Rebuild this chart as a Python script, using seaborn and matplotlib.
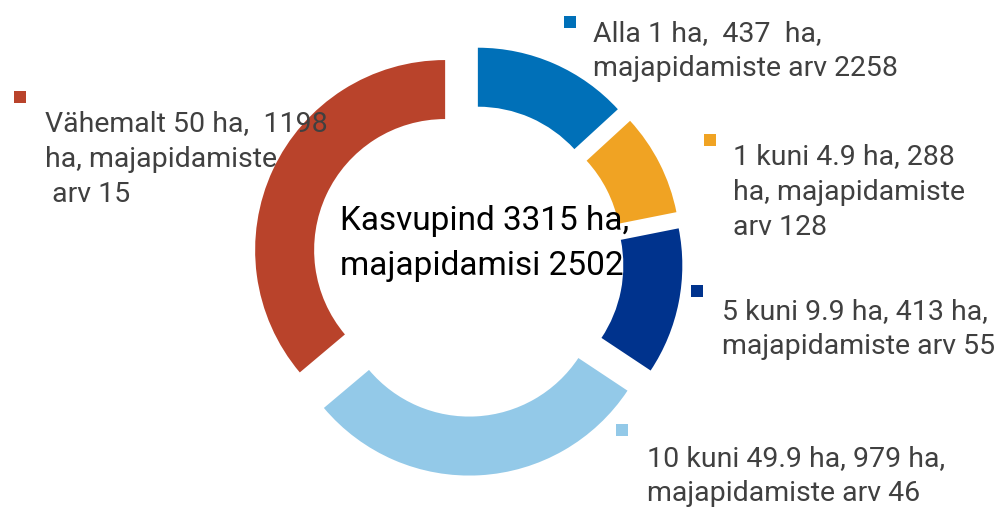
import matplotlib
matplotlib.use("Agg")
import seaborn as sns
import matplotlib.pyplot as plt
from matplotlib.patches import Rectangle

# andmed
kategooriad = ["Alla 1 ha", "1 kuni 4.9 ha", "5 kuni 9.9 ha", "10 kuni 49.9 ha", "Vähemalt 50 ha"]
pindala = [437, 288, 413, 979, 1198]
majapidamisi = [2258, 128, 55, 46, 15]
sildid = [
    "Alla 1 ha,  437  ha,\nmajapidamiste arv 2258",
    "1 kuni 4.9 ha, 288\nha, majapidamiste\narv 128",
    "5 kuni 9.9 ha, 413 ha,\nmajapidamiste arv 55",
    "10 kuni 49.9 ha, 979 ha,\nmajapidamiste arv 46",
    "Vähemalt 50 ha,  1198\nha, majapidamiste\n arv 15",
]
keskel = "Kasvupind 3315 ha,\nmajapidamisi 2502"
varvid = ["#0070B8", "#F0A323", "#00338D", "#93C9E8", "#B9432B"]

sns.set_theme(style="white")
plt.rcParams["font.family"] = ["Roboto", "DejaVu Sans"]

W, H = 1000, 508
fig = plt.figure(figsize=(W / 100, H / 100), dpi=100)
ax = fig.add_axes([0, 0, 1, 1])

R = 190.0
cx, cy = 467.8, 260.6
ax.pie(pindala, colors=sns.color_palette(varvid), startangle=90, counterclock=False,
       explode=[25 / R] * len(pindala), radius=1.0,
       wedgeprops=dict(width=59 / R, linewidth=0))
ax.set_xlim(-cx / R, (W - cx) / R)
ax.set_ylim(-(H - cy) / R, cy / R)
ax.set_aspect("equal")
ax.axis("off")

# sildid: (ruudu x, ruudu y, teksti x, viimase rea alusjoon) pikslites
kohad = [
    (570, 22, 593, 76),
    (710, 140, 733, 235),
    (697, 291, 722, 354),
    (622, 430, 647, 501),
    (20, 97, 45, 202),
]
for (mx, my, tx, ty), silt, v in zip(kohad, sildid, varvid):
    s = 12
    fig.add_artist(Rectangle(((mx - s / 2) / W, 1 - (my + s / 2) / H), s / W, s / H,
                             transform=fig.transFigure, color=v, lw=0))
    fig.text(tx / W, 1 - ty / H, silt, ha="left", va="baseline", fontsize=20.5,
             color="#404040", linespacing=1.4)

fig.text(340 / W, 1 - 275 / H, keskel, ha="left", va="baseline", fontsize=24,
         color="black", linespacing=1.53)

fig.savefig("out.png", dpi=100)
